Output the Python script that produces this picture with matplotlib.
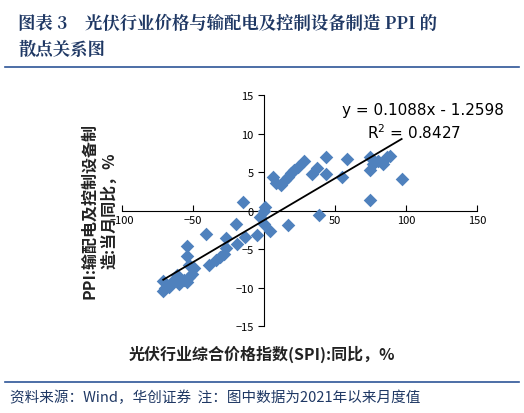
import matplotlib
matplotlib.use("Agg")
import matplotlib.pyplot as plt
import numpy as np

plt.rcParams['font.family'] = ['Noto Sans CJK SC', 'DejaVu Sans']

spi = [-71, -69.5, -67, -71, -63.5, -60, -61.5, -56.5, -54, -53, -50.5, -49, -53, -54, -54,
       -41, -38.5, -33.5, -31, -28, -26.5, -26.5, -20, -19, -13.5, -14.5, -5, -2.5, 0, 1, 4, 0,
       6, 8.5, 12, 14.5, 17, 19, 21.5, 24, 28, 17, 33.5, 37.5, 38.5, 44, 44, 55, 58.5,
       74.5, 74.5, 74.5, 77, 80.5, 84, 86.5, 89, 97]
ppi = [-10.5, -10.1, -9.9, -9.2, -9.0, -9.5, -8.4, -9.0, -9.3, -8.6, -8.2, -7.5, -7.1, -5.9, -4.6,
       -3.1, -7.1, -6.4, -6.0, -5.6, -4.9, -3.6, -1.7, -4.3, -3.4, 1.1, -3.2, -0.8, -0.1, 0.5, -2.7, -1.7,
       4.4, 3.6, 3.3, 4.0, 4.4, 4.9, 5.3, 5.7, 6.4, -1.9, 4.7, 5.5, -0.6, 7.0, 4.7, 4.3, 6.7,
       7.0, 1.4, 5.3, 6.0, 6.4, 6.0, 7.0, 7.1, 4.1]
slope, intercept = 0.1088, -1.2598

fig = plt.figure(figsize=(5.24, 4.14), dpi=100)
navy = '#1F3864'
fig.text(0.035, 0.965, '图表 3    光伏行业价格与输配电及控制设备制造 PPI 的', fontsize=12.5,
         fontweight='bold', color=navy, va='top', family=['Noto Serif CJK SC', 'Noto Sans CJK SC', 'DejaVu Serif'])
fig.text(0.035, 0.905, '散点关系图', fontsize=12.5, fontweight='bold', color=navy, va='top',
         family=['Noto Serif CJK SC', 'Noto Sans CJK SC', 'DejaVu Serif'])
fig.add_artist(plt.Line2D([0.01, 0.99], [0.835, 0.835], color='#2E5597', lw=1.2))
fig.add_artist(plt.Line2D([0.01, 0.99], [0.075, 0.075], color='#2E5597', lw=1.2))
fig.text(0.02, 0.04, '资料来源：Wind，华创证券  注：图中数据为2021年以来月度值', fontsize=10.5,
         style='italic', color=navy, va='center')

ax = fig.add_axes([0.233, 0.21, 0.677, 0.558])
ax.scatter(spi, ppi, marker='D', s=48, color='#4F81BD', zorder=3, linewidths=0)
xs = np.array([min(spi), max(spi)])
ax.plot(xs, slope * xs + intercept, color='black', lw=1.3, zorder=4)
ax.set_xlim(-100, 150)
ax.set_ylim(-15, 15)
ax.set_xticks([-100, -50, 0, 50, 100, 150])
ax.set_yticks([-15, -10, -5, 0, 5, 10, 15])
ax.spines['left'].set_position(('data', 0))
ax.spines['bottom'].set_position(('data', 0))
ax.spines['top'].set_visible(False)
ax.spines['right'].set_visible(False)
for s in ['left', 'bottom']:
    ax.spines[s].set_color('black')
    ax.spines[s].set_linewidth(0.8)
ax.tick_params(direction='out', length=4, labelsize=8, colors='black')
ax.tick_params(axis='x', direction='in', length=4)
ax.text(0.62, 0.97, 'y = 0.1088x - 1.2598', transform=ax.transAxes, fontsize=11, va='top',
        family='DejaVu Sans')
ax.text(0.69, 0.88, 'R$^2$ = 0.8427', transform=ax.transAxes, fontsize=11, va='top',
        family='DejaVu Sans')

fig.text(0.5, 0.145, '光伏行业综合价格指数(SPI):同比，%', fontsize=11.5, fontweight='bold',
         ha='center', va='center', color='#222222')
fig.text(0.19, 0.49, 'PPI:输配电及控制设备制\n造:当月同比，%', fontsize=11.5, fontweight='bold',
         rotation=90, ha='center', va='center', color='#222222', linespacing=1.3)

fig.savefig('out.png', dpi=100)
